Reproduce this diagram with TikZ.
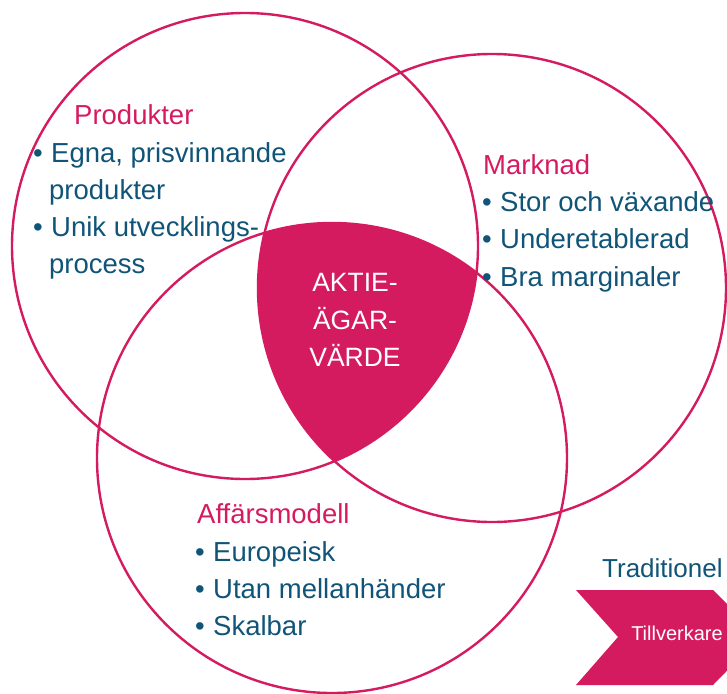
\documentclass[tikz,border=0pt]{standalone}
\usepackage{fontspec}
\setmainfont{Liberation Sans}
\usepackage{tikz}
\definecolor{venn}{RGB}{213,27,96}
\definecolor{punkt}{RGB}{16,84,120}
\tikzset{
  ring/.style={draw=venn, line width=2.4pt},
  rubrik/.style={venn, inner sep=0pt, anchor=base west, font=\fontsize{27.5}{30}\selectfont},
  punkter/.style={punkt, inner sep=0pt, anchor=base west, font=\fontsize{27.5}{30}\selectfont},
}
\newcommand{\pkt}{\llap{•\hspace{8.5pt}}}

\begin{document}
\begin{tikzpicture}[x=1pt,y=-1pt]
\useasboundingbox (0,0) rectangle (727,693);

% les trois cercles
\coordinate (prod) at (245,246);
\coordinate (mark) at (492,288);
\coordinate (aff) at (332,458);
\draw[ring] (prod) circle [radius=233pt];
\draw[ring] (mark) circle [radius=234pt];
\draw[ring] (aff) circle [radius=235pt];

% intersection des trois
\begin{scope}
 \clip (prod) circle [radius=233pt];
 \clip (mark) circle [radius=234pt];
 \fill[venn] (aff) circle [radius=235pt];
\end{scope}
\node (varde) [white, align=center, font=\fontsize{26.5}{37.5}\selectfont] at (355,320) {AKTIE-\\ÄGAR-\\VÄRDE};

% Produkter
\node (prodrub) [rubrik] at (74,124) {Produkter};
\node (prod1) [punkter] at (51,162) {\pkt Egna, prisvinnande};
\node (prod1b) [punkter] at (49,199) {produkter};
\node (prod2) [punkter] at (51,236) {\pkt Unik utvecklings-};
\node (prod2b) [punkter] at (49,273) {process};

% Marknad
\node (markrub) [rubrik] at (483,174) {Marknad};
\node (mark1) [punkter] at (500,211) {\pkt Stor och växande};
\node (mark2) [punkter] at (500,248) {\pkt Underetablerad};
\node (mark3) [punkter] at (500,286) {\pkt Bra marginaler};

% Affärsmodell
\node (affrub) [rubrik] at (197,523) {Affärsmodell};
\node (aff1) [punkter] at (213,561) {\pkt Europeisk};
\node (aff2) [punkter] at (213,598) {\pkt Utan mellanhänder};
\node (aff3) [punkter] at (213,635) {\pkt Skalbar};

% la flèche en bas à droite
\node (trad) [punkter, font=\fontsize{26}{30}\selectfont] at (602,577) {Traditionel};
\begin{scope}
 \clip (0,0) rectangle (727,693);
 \fill[venn] (576,590) -- (713,590) -- (760,637) -- (713,685) -- (576,685) -- (618,637) -- cycle;
\end{scope}
\node (tillv) [white, inner sep=0pt, anchor=base, font=\fontsize{20}{22}\selectfont] at (677,640) {Tillverkare};

\end{tikzpicture}
\end{document}
